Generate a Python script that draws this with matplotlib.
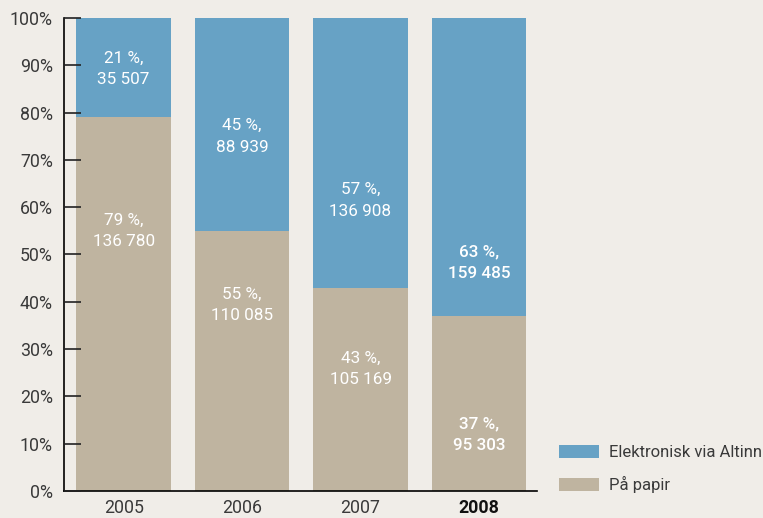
import matplotlib
matplotlib.use("Agg")
import matplotlib.pyplot as plt

years = ["2005", "2006", "2007", "2008"]
paper_pct = [79, 55, 43, 37]
elec_pct = [21, 45, 57, 63]
paper_count = ["136 780", "110 085", "105 169", "95 303"]
elec_count = ["35 507", "88 939", "136 908", "159 485"]

# where the labels sit inside the bars (in %)
paper_label_y = [55, 39.3, 25.8, 12]
elec_label_y = [89.2, 75, 61.4, 48.2]

bg = "#f0ede8"
blue = "#67a2c5"
tan = "#bfb4a0"
txt = "#3a3a3a"

plt.rcParams["font.family"] = ["Roboto", "DejaVu Sans"]

fig = plt.figure(figsize=(7.63, 5.18), dpi=100, facecolor=bg)
ax = fig.add_axes([0.0839, 0.0521, 0.6199, 0.9132], facecolor=bg)

x = range(len(years))
ax.bar(x, paper_pct, width=0.8, color=tan, label="På papir")
ax.bar(x, elec_pct, width=0.8, bottom=paper_pct, color=blue, label="Elektronisk via Altinn")

for i in x:
    weight = "medium" if i == len(years) - 1 else "normal"
    ax.text(i, elec_label_y[i], f"{elec_pct[i]} %,\n{elec_count[i]}", ha="center", va="center",
            color="white", fontsize=12.3, linespacing=1.55, fontweight=weight)
    ax.text(i, paper_label_y[i], f"{paper_pct[i]} %,\n{paper_count[i]}", ha="center", va="center",
            color="white", fontsize=12.3, linespacing=1.55, fontweight=weight)

ax.set_xlim(-0.503, 3.49)
ax.set_ylim(0, 100)
ax.set_yticks(range(0, 101, 10))
ax.set_yticklabels([f"{v}%" for v in range(0, 101, 10)])
ax.tick_params(axis="y", direction="in", length=12, width=1.2, colors="#222222",
               labelcolor=txt, labelsize=12.8, pad=8)
ax.set_xticks(list(x))
ax.set_xticklabels(years)
ax.tick_params(axis="x", length=0, labelcolor=txt, labelsize=12.8, pad=6)
ax.get_xticklabels()[-1].set_fontweight("bold")
ax.get_xticklabels()[-1].set_color("#111111")

for s in ["top", "right"]:
    ax.spines[s].set_visible(False)
ax.spines["left"].set_linewidth(1.2)
ax.spines["bottom"].set_linewidth(1.2)
ax.set_axisbelow(False)

handles, labels = ax.get_legend_handles_labels()
leg = fig.legend(handles[::-1], labels[::-1], loc="lower left", bbox_to_anchor=(0.724, 0.035),
                 frameon=False, fontsize=12, handlelength=2.4, handleheight=0.8,
                 labelspacing=0.95, handletextpad=0.6, borderaxespad=0)
for t in leg.get_texts():
    t.set_color(txt)

fig.savefig("out.png", dpi=100, facecolor=bg)
